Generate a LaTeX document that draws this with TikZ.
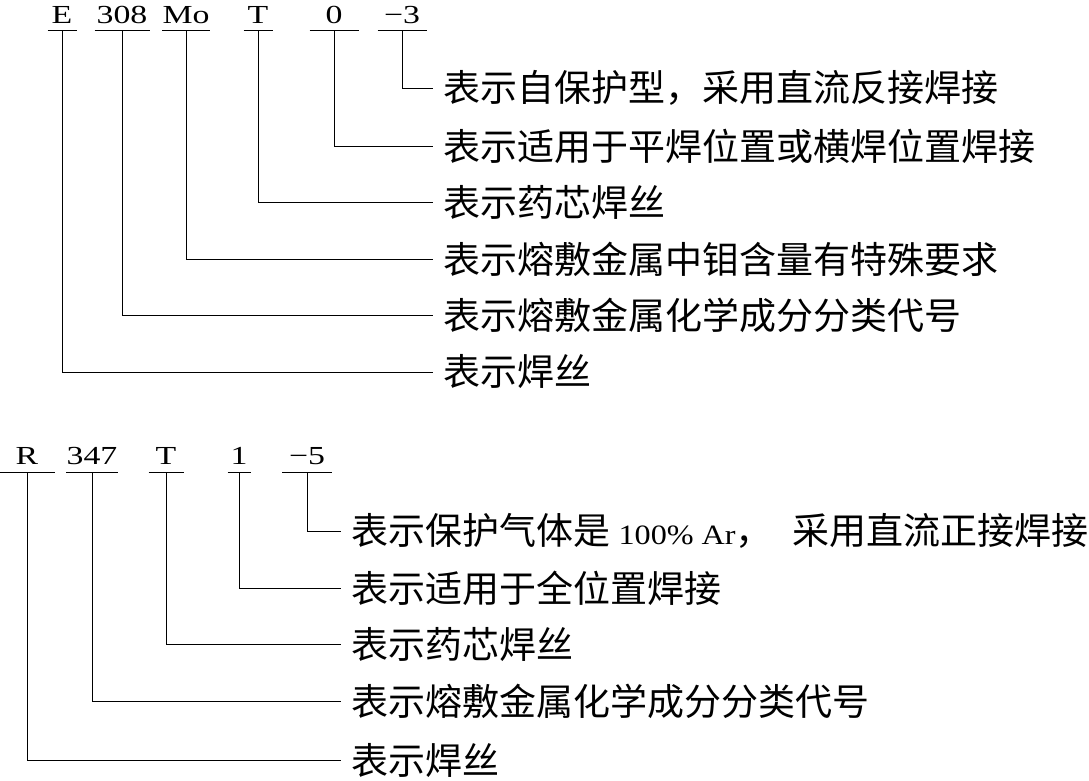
\documentclass[tikz,border=0pt]{standalone}
\usepackage{fontspec}
\setmainfont[FakeStretch=1.15]{Liberation Serif}
\newfontfamily\codefont[FakeStretch=1.3]{Liberation Serif}
\newfontfamily\cjk{Noto Sans CJK SC}
\newcommand\romantext[1]{{\fontsize{28}{30}\selectfont\rmfamily #1}}

\begin{document}
\begin{tikzpicture}[
        x=1pt, y=-1pt,
        line width=1pt,
        code/.style={inner xsep=0pt, inner ysep=6pt, anchor=south, text depth=0pt, font=\fontsize{26}{28}\selectfont\codefont},
        desc/.style={anchor=west, inner xsep=10pt, inner ysep=0pt, font=\fontsize{37}{40}\selectfont\cjk}
      ]
        \useasboundingbox (0,0) rectangle (1089,780);

        % ---- E308MoT0-3 ----
        \node[code, minimum width=28] (cE)    at (62,30)  {E};
        \node[code, minimum width=54] (c308)  at (122,30) {308};
        \node[code, minimum width=45] (cMo)   at (186,30) {Mo};
        \node[code, minimum width=28] (cT)    at (258,30) {T};
        \node[code, minimum width=48] (cZero) at (334,30) {0};
        \node[code, minimum width=48] (cDash) at (402,30) {−3};
        \foreach \n in {cE,c308,cMo,cT,cZero,cDash}{\draw (\n.south west) -- (\n.south east);}

        \node[desc] (dDash) at (433,88)  {表示自保护型，采用直流反接焊接};
        \node[desc] (dZero) at (433,146) {表示适用于平焊位置或横焊位置焊接};
        \node[desc] (dT)    at (433,202) {表示药芯焊丝};
        \node[desc] (dMo)   at (433,259) {表示熔敷金属中钼含量有特殊要求};
        \node[desc] (d308)  at (433,315) {表示熔敷金属化学成分分类代号};
        \node[desc] (dE)    at (433,372) {表示焊丝};

        \draw (cDash.south) |- (dDash.west);
        \draw (cZero.south) |- (dZero.west);
        \draw (cT.south) |- (dT.west);
        \draw (cMo.south) |- (dMo.west);
        \draw (c308.south) |- (d308.west);
        \draw (cE.south) |- (dE.west);

        % ---- R347T1-5 ----
        \node[code, inner ysep=7pt, minimum width=54] (cR)    at (27,472)  {R};
        \node[code, inner ysep=7pt, minimum width=46] (c347)  at (92,472)  {347};
        \node[code, inner ysep=7pt, minimum width=34] (cTb)   at (166,472) {T};
        \node[code, inner ysep=7pt, minimum width=22] (cOne)  at (239,472) {1};
        \node[code, inner ysep=7pt, minimum width=49] (cFive) at (307,472) {−5};
        \foreach \n in {cR,c347,cTb,cOne,cFive}{\draw (\n.south west) -- (\n.south east);}

        \node[desc] (dFive) at (341,531) {表示保护气体是\romantext{\ 100\% Ar}，\hspace{20pt}采用直流正接焊接};
        \node[desc] (dOne)  at (341,588) {表示适用于全位置焊接};
        \node[desc] (dTb)   at (341,644) {表示药芯焊丝};
        \node[desc] (d347)  at (341,701) {表示熔敷金属化学成分分类代号};
        \node[desc] (dR)    at (341,760) {表示焊丝};

        \draw (cFive.south) |- (dFive.west);
        \draw (cOne.south) |- (dOne.west);
        \draw (cTb.south) |- (dTb.west);
        \draw (c347.south) |- (d347.west);
        \draw (cR.south) |- (dR.west);
    \end{tikzpicture}
\end{document}
